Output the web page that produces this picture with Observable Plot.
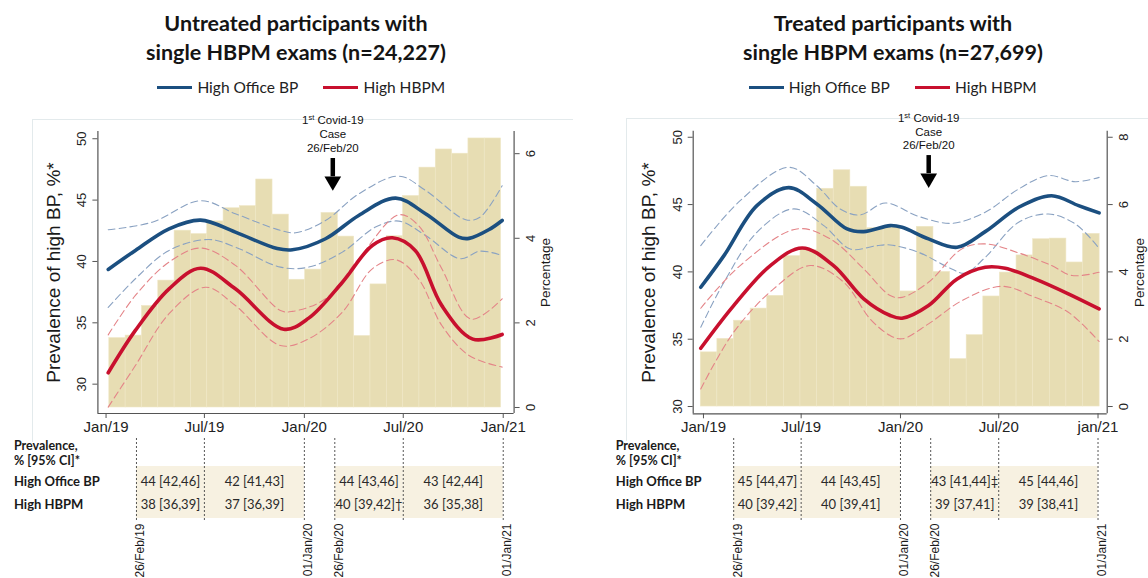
<!DOCTYPE html>
<html><head><meta charset="utf-8">
<script src="https://cdn.jsdelivr.net/npm/d3@7"></script>
<script src="https://cdn.jsdelivr.net/npm/@observablehq/plot@0.6"></script>
<style>
body{margin:0;background:#fff;}
#root{position:relative;width:1148px;height:578px;overflow:hidden;font-family:Lato,"Open Sans",sans-serif;}
.title{position:absolute;font-weight:700;font-size:21.5px;line-height:29px;text-align:center;color:#141414;white-space:nowrap;transform:translateX(-50%);}
.leg{position:absolute;font-size:15.5px;line-height:18px;color:#222;white-space:nowrap;}
.sw{position:absolute;height:3.5px;width:35px;}
.box{position:absolute;border-top:1px solid #e3eaec;border-left:1px solid #e3eaec;}
.holder{position:absolute;}
</style></head><body><div id="root"></div>
<script>
// ---------- data ----------
const tickDates = ["2019-01-01","2019-07-01","2020-01-01","2020-07-01","2021-01-01"];
const tickLabelsUntreated = ["Jan/19","Jul/19","Jan/20","Jul/20","Jan/21"];
const tickLabelsTreated = ["Jan/19","Jul/19","Jan/20","Jul/20","jan/21"];
const prevTicks = [30,35,40,45,50];
const pctTicksUntreated = [0,2,4,6];
const pctTicksTreated = [0,2,4,6,8];
const covidDate = "2020-02-26";

// monthly histogram (Percentage, right axis)
const pctUntreated = [1.64,1.70,2.40,3.00,4.18,4.10,4.40,4.71,4.76,5.39,4.56,3.02,3.26,4.60,4.04,1.69,2.91,4.05,5.00,5.67,6.10,6.00,6.36,6.36];
const pctTreated = [1.61,2.01,2.55,2.91,3.29,4.47,4.65,6.47,7.02,6.53,5.30,5.36,3.42,5.34,4.00,1.41,2.12,3.27,3.98,4.49,4.97,4.99,4.28,5.13];
const histRangeUntreated = ["2019-01-07","2020-12-28"];
const histRangeTreated = ["2018-12-27","2021-01-04"];

// Untreated: smoothed prevalence and 95% CI
const untreatedOffice = [["2019-01-05",39.35],["2019-02-24",40.9],["2019-04-27",42.66],["2019-06-24",43.37],["2019-08-27",42.39],["2019-11-12",41.05],["2019-12-10",40.95],["2020-02-09",41.85],["2020-04-10",43.75],["2020-06-17",45.16],["2020-08-11",43.89],["2020-10-11",41.98],["2020-10-30",41.88],["2020-12-06",42.6],["2020-12-30",43.34]];
const untreatedOfficeHi = [["2019-01-05",42.58],["2019-03-27",43.2],["2019-06-24",44.95],["2019-08-27",43.89],["2019-11-18",42.53],["2019-12-16",42.34],["2020-02-09",43.34],["2020-04-10",45.5],["2020-06-23",46.95],["2020-08-11",45.79],["2020-10-24",43.4],["2020-11-19",43.6],["2020-12-30",46.17]];
const untreatedOfficeLo = [["2019-01-05",36.25],["2019-02-24",38.59],["2019-04-27",40.9],["2019-07-09",41.79],["2019-08-27",41.17],["2019-11-18",39.54],["2020-01-09",39.54],["2020-03-11",40.76],["2020-05-11",42.8],["2020-06-23",43.29],["2020-08-11",42.12],["2020-10-14",40.22],["2020-11-19",40.84],["2020-12-30",40.49]];
const untreatedHbpm = [["2019-01-05",30.93],["2019-02-24",34.38],["2019-04-27",37.77],["2019-06-24",39.45],["2019-08-27",37.77],["2019-11-24",34.48],["2020-01-09",35.38],["2020-03-11",38.31],["2020-05-05",41.3],["2020-06-11",41.93],["2020-07-23",40.9],["2020-09-10",36.4],["2020-11-06",33.67],["2020-12-30",34.05]];
const untreatedHbpmHi = [["2019-01-05",34.02],["2019-02-24",37.23],["2019-04-27",39.95],["2019-06-24",41.09],["2019-08-27",39.68],["2019-11-18",36.0],["2019-12-10",35.93],["2020-02-09",36.96],["2020-04-10",40.22],["2020-06-23",43.8],["2020-07-29",42.93],["2020-09-10",39.4],["2020-11-03",35.3],["2020-12-30",36.96]];
const untreatedHbpmLo = [["2019-01-05",28.13],["2019-02-24",31.52],["2019-04-27",35.74],["2019-07-03",37.9],["2019-08-27",36.41],["2019-11-18",33.15],["2020-01-09",33.7],["2020-03-11",35.87],["2020-05-05",39.4],["2020-06-17",40.14],["2020-07-29",38.59],["2020-09-10",34.78],["2020-10-30",32.34],["2020-12-30",31.39]];

// Treated: smoothed prevalence and 95% CI
const treatedOffice = [["2018-12-27",38.86],["2019-02-08",41.21],["2019-04-10",44.92],["2019-06-08",46.26],["2019-07-30",45.05],["2019-09-24",43.19],["2019-10-25",42.99],["2019-12-13",43.44],["2020-01-04",43.31],["2020-02-22",42.45],["2020-04-15",41.83],["2020-06-06",42.99],["2020-08-07",44.8],["2020-10-07",45.66],["2020-11-26",44.92],["2021-01-03",44.38]];
const treatedOfficeHi = [["2018-12-27",41.95],["2019-03-10",45.29],["2019-06-08",47.77],["2019-07-30",46.4],["2019-09-11",44.68],["2019-10-18",44.23],["2019-12-04",45.12],["2020-02-03",44.13],["2020-04-05",43.61],["2020-06-06",44.43],["2020-08-07",46.16],["2020-10-01",47.15],["2020-11-20",46.7],["2021-01-03",47.02]];
const treatedOfficeLo = [["2018-12-27",35.89],["2019-02-08",39.23],["2019-04-10",42.94],["2019-06-17",44.68],["2019-08-12",43.44],["2019-09-30",41.7],["2019-11-18",41.95],["2019-12-13",42.0],["2020-02-03",41.46],["2020-04-05",40.22],["2020-04-30",39.9],["2020-06-06",41.08],["2020-08-07",43.69],["2020-10-01",44.3],["2020-11-20",43.56],["2021-01-03",41.75]];
const treatedHbpm = [["2018-12-27",34.33],["2019-02-26",37.5],["2019-05-05",40.47],["2019-07-03",41.78],["2019-08-30",40.47],["2019-10-25",38.0],["2019-12-13",36.76],["2020-01-04",36.56],["2020-02-22",37.5],["2020-04-15",39.48],["2020-06-06",40.34],["2020-07-13",40.27],["2020-09-06",39.48],["2020-11-07",38.37],["2021-01-03",37.25]];
const treatedHbpmHi = [["2018-12-27",37.3],["2019-03-10",40.47],["2019-06-23",43.19],["2019-08-24",42.45],["2019-10-25",40.22],["2019-12-13",38.24],["2020-01-04",38.11],["2020-02-22",39.23],["2020-04-24",41.71],["2020-06-06",42.08],["2020-08-07",41.41],["2020-10-07",40.47],["2020-11-14",39.73],["2021-01-03",39.97]];
const treatedHbpmLo = [["2018-12-27",31.31],["2019-02-26",35.52],["2019-05-11",38.74],["2019-07-18",40.47],["2019-09-18",39.23],["2019-11-06",36.5],["2019-12-13",35.27],["2020-01-04",35.03],["2020-02-22",36.14],["2020-04-24",37.87],["2020-07-07",38.93],["2020-09-06",38.11],["2020-11-07",37.0],["2021-01-03",34.83]];

// Table
const periodBounds = ["2019-02-26","2019-07-01","2020-01-01","2020-02-26","2020-07-01","2021-01-01"];
const boundLabelDates = ["2019-02-26","2020-01-01","2020-02-26","2021-01-01"];
const boundLabels = ["26/Feb/19","01/Jan/20","26/Feb/20","01/Jan/21"];
const rowLabels = ["High Office BP","High HBPM"];
const untreatedOfficeCells = ["44 [42,46]","42 [41,43]","44 [43,46]","43 [42,44]"];
const untreatedHbpmCells = ["38 [36,39]","37 [36,39]","40 [39,42]†","36 [35,38]"];
const treatedOfficeCells = ["45 [44,47]","44 [43,45]","43 [41,44]‡","45 [44,46]"];
const treatedHbpmCells = ["40 [39,42]","40 [39,41]","39 [37,41]","39 [38,41]"];

// ---------- styling ----------
const BLUE = "#1b4f80", RED = "#c8102e", BLUE_D = "#8aa2c2", RED_D = "#e48488";
const BAR = "#e7ddb3", BEIGE = "#f7f1e1", AX = "#555";
const SANS = "'Liberation Sans', Arial, sans-serif";

const P = s => new Date(s + "T00:00:00Z");
const root = document.getElementById("root");

function addDiv(cls, css, html) {
  const d = document.createElement("div");
  d.className = cls; Object.assign(d.style, css); if (html != null) d.innerHTML = html;
  root.appendChild(d); return d;
}

function chart(cfg) {
  const [hs, he] = cfg.histRange.map(P);
  const n = cfg.pct.length, w = (he - hs) / n;
  const toV = r => cfg.pctBase + r * cfg.pctScale;
  const bars = cfg.pct.map((p, i) => ({x1: new Date(+hs + i * w), x2: new Date(+hs + (i + 1) * w), y1: cfg.pctBase, y2: toV(p)}));
  const ser = a => a.map(([d, v]) => ({date: P(d), v}));
  const tickMap = new Map(tickDates.map((d, i) => [+P(d), cfg.tickLabels[i]]));
  const lo = (stroke, sw, dash) => ({x: "date", y: "v", stroke, strokeWidth: sw, strokeDasharray: dash, curve: "catmull-rom"});
  const covid = [{date: P(covidDate), label: "1st Covid-19\nCase\n26/Feb/20"}];
  const [xMin, xMax] = cfg.xDomain.map(P);
  const svg = Plot.plot({
    width: 574, height: 340,
    marginLeft: cfg.mL, marginRight: cfg.mR, marginTop: cfg.mT, marginBottom: cfg.mB,
    x: {type: "utc", domain: [xMin, xMax]},
    y: {domain: cfg.yDomain},
    style: {fontFamily: SANS, background: "transparent", color: "#222", overflow: "visible"},
    marks: [
      Plot.rect(bars, {x1: "x1", x2: "x2", y1: "y1", y2: "y2", fill: BAR, stroke: "#efe7c6", strokeWidth: 0.6}),
      Plot.line(ser(cfg.officeHi), lo(BLUE_D, 1.1, "7,4")),
      Plot.line(ser(cfg.officeLo), lo(BLUE_D, 1.1, "7,4")),
      Plot.line(ser(cfg.hbpmHi), lo(RED_D, 1.1, "7,4")),
      Plot.line(ser(cfg.hbpmLo), lo(RED_D, 1.1, "7,4")),
      Plot.line(ser(cfg.office), lo(BLUE, 3.6)),
      Plot.line(ser(cfg.hbpm), lo(RED, 3.6)),
      Plot.ruleX([xMin, xMax], {stroke: AX, strokeWidth: 1.2}),
      Plot.ruleY([cfg.yDomain[0]], {stroke: AX, strokeWidth: 1.2}),
      Plot.axisX({ticks: tickDates.map(P), tickFormat: d => tickMap.get(+d), tickSize: 5, tickPadding: 3, fontSize: 15, label: null, color: "#222", stroke: AX}),
      Plot.axisY({anchor: "left", ticks: prevTicks, tickRotate: -90, tickSize: 5, tickPadding: 6.5, fontSize: 13, label: null, color: "#222", stroke: AX}),
      Plot.axisY({anchor: "right", ticks: cfg.pctTicks.map(toV), tickFormat: v => String(Math.round((v - cfg.pctBase) / cfg.pctScale)), tickRotate: -90, tickSize: 5, tickPadding: 16, fontSize: 13, label: null, color: "#222", stroke: AX}),
      Plot.text(["Prevalence of high BP, %*"], {frameAnchor: "left", textAnchor: "middle", rotate: -90, dx: -44, fontSize: 19, fill: "#1a1a1a"}),
      Plot.text(["Percentage"], {frameAnchor: "right", textAnchor: "middle", rotate: -90, dx: 32, fontSize: 13.5, fill: "#1a1a1a"}),
      Plot.ruleX(covid, {x: "date", y1: cfg.arrow[0], y2: cfg.arrow[1], stroke: "#000", strokeWidth: 4.5, dx: -2}),
      Plot.dot(covid, {x: "date", y: cfg.arrow[2], symbol: "triangle", rotate: 180, r: 6.2, fill: "#000", dx: -2}),
      Plot.text(covid, {x: "date", frameAnchor: "top", lineAnchor: "middle", text: "label", fontSize: 11.5, lineHeight: 1.2, dy: cfg.annDy, dx: -2, fill: "#111"})
    ]
  });
  d3.select(svg).selectAll("tspan").each(function () {
    if (this.textContent === "1st Covid-19") {
      const t = d3.select(this);
      t.text("1");
      t.append("tspan").attr("font-size", "7.5px").attr("dy", "-4").text("st");
      t.append("tspan").attr("font-size", "11.5px").attr("dy", "4").text(" Covid-19");
    }
  });
  return svg;
}

function table(cfg) {
  const [xMin, xMax] = cfg.xDomain.map(P);
  const b = periodBounds.map(P);
  const spans = [[b[0], b[1]], [b[1], b[2]], [b[3], b[4]], [b[4], b[5]]];
  const cells = [];
  spans.forEach(([s, e], i) => {
    cells.push({row: "office", s, e, label: cfg.officeCells[i]});
    cells.push({row: "hbpm", s, e, label: cfg.hbpmCells[i]});
  });
  const rows = [{row: "hdr", label: "Prevalence,\n% [95% CI]*"}, {row: "office", label: rowLabels[0]}, {row: "hbpm", label: rowLabels[1]}];
  const dates = boundLabelDates.map((d, i) => ({date: P(d), label: boundLabels[i]}));
  return Plot.plot({
    width: 574, height: 148,
    marginLeft: cfg.mL, marginRight: cfg.mR, marginTop: 8, marginBottom: 58,
    x: {type: "utc", domain: [xMin, xMax], axis: null},
    y: {type: "band", domain: ["hdr", "office", "hbpm"], range: [16.75, 86.65], padding: 0, axis: null},
    style: {fontFamily: "Lato, 'Open Sans', sans-serif", background: "transparent", color: "#222", overflow: "visible"},
    marks: [
      Plot.barX(cells, {x1: "s", x2: "e", y: "row", fill: BEIGE, insetTop: -4, insetBottom: -2}),
      Plot.ruleX(b, {stroke: "#444", strokeWidth: 0.9, strokeDasharray: "2,2"}),
      Plot.text(cells, {x: d => new Date((+d.s + +d.e) / 2), y: "row", text: "label", fontSize: 13, fill: "#2a2a2a"}),
      Plot.text(rows.slice(0, 1), {y: "row", text: "label", frameAnchor: "left", dx: cfg.rowDx, dy: -6, textAnchor: "start", fontWeight: "bold", fontSize: 12.5, lineHeight: 1.15, fill: "#1a1a1a"}),
      Plot.text(rows.slice(1), {y: "row", text: "label", frameAnchor: "left", dx: cfg.rowDx, textAnchor: "start", fontWeight: "bold", fontSize: 13, fill: "#1a1a1a"}),
      Plot.text(dates, {x: "date", text: "label", frameAnchor: "bottom", lineAnchor: "middle", rotate: -90, textAnchor: "end", dx: 4, dy: 3, fontSize: 12, fontFamily: SANS, fill: "#1a1a1a"})
    ]
  });
}

const panels = [
  {
    left: 0, titleX: 296,
    title: "Untreated participants with<br>single HBPM exams (n=24,227)",
    leg: [157, 197.4, 322.8, 363.5],
    box: {left: "32px", top: "119px", width: "540px", height: "322px"},
    chart: {
      mL: 97.4, mR: 60.4, mT: 31, mB: 27,
      xDomain: ["2018-12-17", "2021-01-21"], yDomain: [27.61, 50.59],
      pctBase: 28.1, pctScale: 3.447, pctTicks: pctTicksUntreated,
      tickLabels: tickLabelsUntreated, histRange: histRangeUntreated, pct: pctUntreated,
      office: untreatedOffice, officeHi: untreatedOfficeHi, officeLo: untreatedOfficeLo,
      hbpm: untreatedHbpm, hbpmHi: untreatedHbpmHi, hbpmLo: untreatedHbpmLo,
      arrow: [48.39, 46.9, 46.54], annDy: 2
    },
    table: {mL: 97.4, mR: 60.4, xDomain: ["2018-12-17", "2021-01-21"], rowDx: -84, officeCells: untreatedOfficeCells, hbpmCells: untreatedHbpmCells}
  },
  {
    left: 574, titleX: 893,
    title: "Treated participants with<br>single HBPM exams (n=27,699)",
    leg: [748.6, 788.8, 914.8, 955],
    box: {left: "626px", top: "118px", width: "524px", height: "322px"},
    chart: {
      mL: 118.7, mR: 41.3, mT: 30.7, mB: 26.7,
      xDomain: ["2018-12-13", "2021-01-18"], yDomain: [29.46, 50.45],
      pctBase: 30, pctScale: 2.5, pctTicks: pctTicksTreated,
      tickLabels: tickLabelsTreated, histRange: histRangeTreated, pct: pctTreated,
      office: treatedOffice, officeHi: treatedOfficeHi, officeLo: treatedOfficeLo,
      hbpm: treatedHbpm, hbpmHi: treatedHbpmHi, hbpmLo: treatedHbpmLo,
      arrow: [48.64, 47.3, 46.95], annDy: 0
    },
    table: {mL: 118.7, mR: 41.3, xDomain: ["2018-12-13", "2021-01-18"], rowDx: -77.5, officeCells: treatedOfficeCells, hbpmCells: treatedHbpmCells}
  }
];

for (const p of panels) {
  addDiv("box", p.box);
  addDiv("title", {left: p.titleX + "px", top: "8.7px"}, p.title);
  addDiv("sw", {left: p.leg[0] + "px", top: "85.5px", background: BLUE});
  addDiv("leg", {left: p.leg[1] + "px", top: "77.7px"}, "High Office BP");
  addDiv("sw", {left: p.leg[2] + "px", top: "85.5px", background: RED});
  addDiv("leg", {left: p.leg[3] + "px", top: "77.7px"}, "High HBPM");
  const h1 = addDiv("holder", {left: p.left + "px", top: "100px"});
  h1.appendChild(chart(p.chart));
  const h2 = addDiv("holder", {left: p.left + "px", top: "430px"});
  h2.appendChild(table(p.table));
}
</script>
</body></html>
